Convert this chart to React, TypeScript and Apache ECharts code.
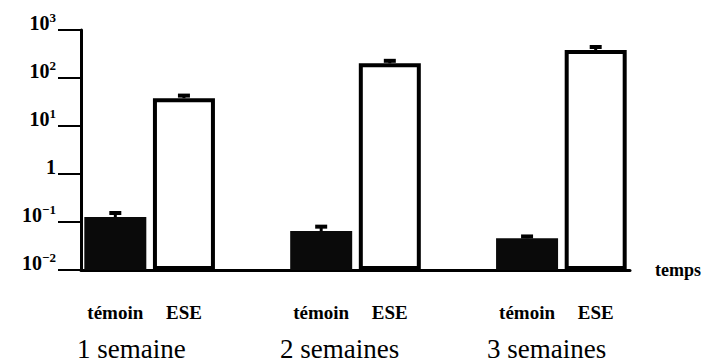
import React, { useEffect, useRef } from "react";
import * as echarts from "echarts";

// ---- data ----
const weeks = ["1 semaine", "2 semaines", "3 semaines"];
const groups = ["témoin", "ESE"];
const temoinValues = [0.127, 0.065, 0.046];
const temoinErrorTop = [0.154, 0.08, 0.05];
const eseValues = [38, 202, 383];
const eseErrorTop = [43, 228, 443];
const yTickBase = ["10", "10", "1", "10", "10", "10"];
const yTickSup = ["−2", "−1", "", "1", "2", "3"];
const xAxisName = "temps";
const logMin = -2;
const logMax = 3;

const toAxis = (v: number) => Math.log10(v) - logMin;

// slots: témoin, ESE, gap, témoin, ESE, gap, témoin, ESE
const categories: string[] = [];
const slotLabels: string[] = [];
const temoinSlots: number[] = [];
const eseSlots: number[] = [];
weeks.forEach((w, i) => {
  temoinSlots.push(categories.length);
  categories.push(w + " " + groups[0]);
  slotLabels.push(groups[0]);
  eseSlots.push(categories.length);
  categories.push(w + " " + groups[1]);
  slotLabels.push(groups[1]);
  if (i < weeks.length - 1) {
    categories.push("gap" + i);
    slotLabels.push("");
  }
});

const temoinData = categories.map((_, k) => {
  const i = temoinSlots.indexOf(k);
  return i >= 0 ? toAxis(temoinValues[i]) : "-";
});
const eseData = categories.map((_, k) => {
  const i = eseSlots.indexOf(k);
  return i >= 0 ? toAxis(eseValues[i]) : "-";
});
const errorData = [
  ...temoinSlots.map((s, i) => [s, toAxis(temoinValues[i]), toAxis(temoinErrorTop[i])]),
  ...eseSlots.map((s, i) => [s, toAxis(eseValues[i]), toAxis(eseErrorTop[i])]),
];

const serif = "'Liberation Serif', 'Times New Roman', serif";

export default function App() {
  const ref = useRef<HTMLDivElement>(null);
  useEffect(() => {
    if (!ref.current) return;
    const chart = echarts.init(ref.current, undefined, { renderer: "svg" });
    const weekLabelX = [77, 280, 487];
    chart.setOption({
      animation: false,
      backgroundColor: "#fff",
      grid: { left: 81, right: 76, top: 30, bottom: 93, containLabel: false },
      xAxis: {
        type: "category",
        data: categories,
        boundaryGap: true,
        name: xAxisName,
        nameLocation: "end",
        nameGap: 25,
        nameTextStyle: {
          fontFamily: serif,
          fontSize: 18,
          fontWeight: "bold",
          color: "#000",
          padding: [0, 0, 18, 0],
        },
        axisLine: { show: true, lineStyle: { color: "#000", width: 3 } },
        axisTick: { show: false },
        axisLabel: {
          show: true,
          interval: 0,
          margin: 33,
          fontFamily: serif,
          fontSize: 19,
          fontWeight: "bold",
          color: "#000",
          formatter: (_v: string, i: number) => slotLabels[i],
        },
        splitLine: { show: false },
      },
      yAxis: {
        type: "value",
        min: 0,
        max: logMax - logMin,
        interval: 1,
        axisLine: { show: true, lineStyle: { color: "#000", width: 3 } },
        axisTick: { show: true, inside: false, length: 23, lineStyle: { color: "#000", width: 2 } },
        splitLine: { show: false },
        axisLabel: {
          margin: 25,
          color: "#000",
          padding: [0, 0, 16, 0],
          formatter: (val: number) => {
            const i = Math.round(val);
            return "{b|" + yTickBase[i] + "}" + (yTickSup[i] ? "{s|" + yTickSup[i] + "}" : "");
          },
          rich: {
            b: {
              fontFamily: serif,
              fontSize: 20,
              fontWeight: "bold",
              color: "#000",
              lineHeight: 22,
              verticalAlign: "bottom",
            },
            s: {
              fontFamily: serif,
              fontSize: 13,
              fontWeight: "bold",
              color: "#000",
              lineHeight: 14,
              verticalAlign: "top",
            },
          },
        },
      },
      series: [
        {
          name: groups[0],
          type: "bar",
          data: temoinData,
          barWidth: 62,
          barGap: "-100%",
          itemStyle: { color: "#0a0a0a" },
          z: 2,
        },
        {
          name: groups[1],
          type: "bar",
          data: eseData,
          barWidth: 62,
          barGap: "-100%",
          itemStyle: { color: "#fff", borderColor: "#000", borderWidth: 4 },
          z: 2,
        },
        {
          type: "custom",
          data: errorData,
          z: 5,
          renderItem: (_params: any, api: any) => {
            const x = api.value(0);
            const p0 = api.coord([x, api.value(1)]);
            const p1 = api.coord([x, api.value(2)]);
            return {
              type: "group",
              children: [
                {
                  type: "line",
                  shape: { x1: p0[0], y1: p0[1], x2: p1[0], y2: p1[1] },
                  style: { stroke: "#000", lineWidth: 3 },
                },
                {
                  type: "rect",
                  shape: { x: p1[0] - 6, y: p1[1] - 2, width: 12, height: 4 },
                  style: { fill: "#000" },
                },
              ],
            };
          },
        },
      ],
      graphic: weeks.map((w, i) => ({
        type: "text",
        left: weekLabelX[i],
        top: 335,
        style: {
          text: w,
          fontFamily: serif,
          fontSize: 27,
          fill: "#000",
        },
      })),
    });
    return () => chart.dispose();
  }, []);
  return (
    <div
      ref={ref}
      style={{ position: "fixed", left: 0, top: 0, width: 706, height: 363, background: "#fff" }}
    />
  );
}
